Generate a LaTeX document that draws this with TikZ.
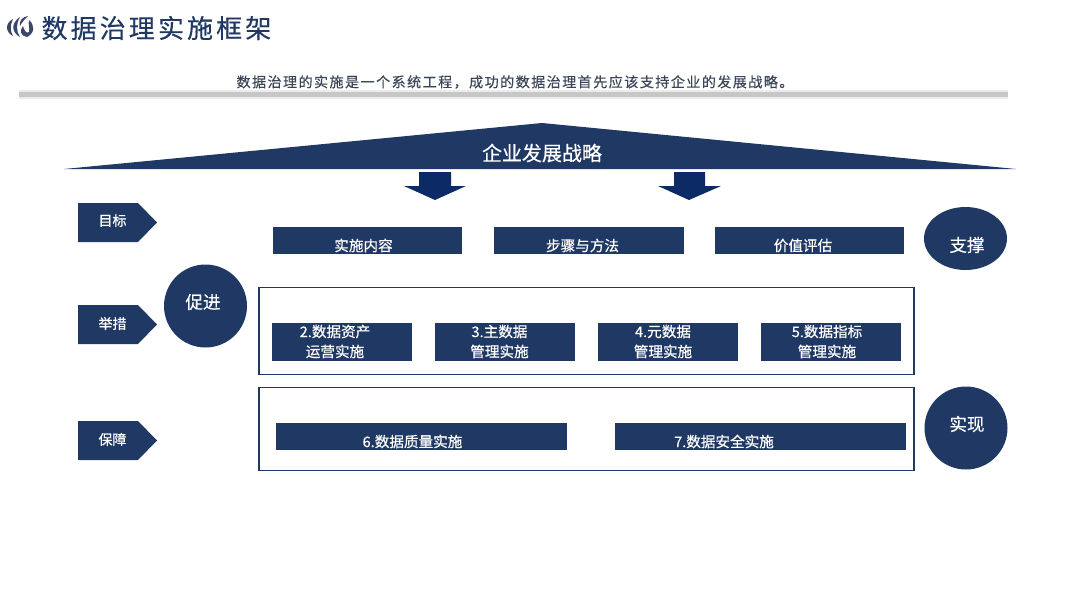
\documentclass[tikz,border=0pt]{standalone}
\usepackage{fontspec}
\setmainfont{Noto Sans CJK SC}
\newfontfamily\medf[FakeBold=0.5]{Noto Sans CJK SC}
\newfontfamily\spaced[LetterSpace=10,FakeBold=0.3]{Noto Sans CJK SC}
\newfontfamily\spacedb[LetterSpace=12,FakeBold=0.3]{Noto Sans CJK SC}
\usetikzlibrary{shapes.geometric}
\definecolor{navy}{HTML}{1F3864}
\definecolor{arrowblue}{HTML}{0B2A66}
\definecolor{ink}{HTML}{3A4658}
\definecolor{logoc}{HTML}{3A4668}
\tikzset{
  every node/.style={inner sep=0pt,outer sep=0pt},
  bar/.style={fill=navy,draw=none},
  bartext/.style={text=white,font=\fontsize{14.6}{20}\medf,align=center},
  disc/.style={circle,fill=navy,draw=none,minimum size=83pt},
  disctext/.style={text=white,font=\fontsize{17.5}{20}\medf},
  frame/.style={draw=navy,fill=white,line width=1.4pt},
  tagtext/.style={text=white,font=\fontsize{14}{16}\medf},
}
\begin{document}
\begin{tikzpicture}[x=1pt,y=-1pt]
\useasboundingbox (0,0) rectangle (1080,608);
% logo
\fill[logoc] (13,19) .. controls (5,23) and (5,32) .. (13,36) .. controls (10,31) and (10,25) .. (13,19) -- cycle;
\fill[logoc] (20,17) .. controls (11,23) and (11,32) .. (20,37) .. controls (16,31) and (16,24) .. (20,17) -- cycle;
\fill[logoc] (28,16) .. controls (22,17) and (19,21) .. (20,26) .. controls (22,22) and (25,19) .. (28,16) -- cycle;
\fill[logoc] (29,20) .. controls (35,25) and (35,33) .. (27,37) .. controls (21,36) and (19,31) .. (23,26) .. controls (24,31) and (27,34) .. (29,32) .. controls (30,28) and (28,24) .. (29,20) -- cycle;
% title
\node[anchor=west,text=navy,font=\fontsize{26}{28}\spacedb] (title) at (41.5,28) {数据治理实施框架};
\node[text=ink,font=\fontsize{14.1}{16}\spaced] (sub) at (515,82) {数据治理的实施是一个系统工程，成功的数据治理首先应该支持企业的发展战略。};
% grey rule
\fill[black!8] (19,89.5) rectangle (1008,99);
\fill[black!22] (19,92) rectangle (1008,97);
% roof
\coordinate (roofl) at (64,169);
\coordinate (roofr) at (1016,169);
\coordinate (roofa) at (542,123);
\fill[navy] (roofl) -- (roofa) -- (roofr) -- cycle;
\node[text=white,font=\fontsize{20}{22}\medf] (strategy) at (542,153) {企业发展战略};
% down arrows
\fill[arrowblue] (419,172) -- (451,172) -- (451,186) -- (466,186) -- (435,200) -- (404,186) -- (419,186) -- cycle;
\fill[arrowblue] (674,172) -- (705,172) -- (705,186) -- (721,186) -- (689,200) -- (658,186) -- (674,186) -- cycle;
% tags
\foreach \n/\y/\t/\dy in {goal/203/目标/-2,act/305/举措/-1,safe/421/保障/-1}{
  \fill[navy] (78,\y) -- (138,\y) -- (157,\y+19.5) -- (138,\y+39) -- (78,\y+39) -- cycle;
  \node[tagtext] (\n) at (112.5,\y+19.5+\dy) {\t};
}
% top bars
\node[bar,minimum width=189pt,minimum height=27pt,label={[bartext,yshift=-5pt,xshift=-4pt]center:实施内容}] (b1) at (367.5,240.5) {};
\node[bar,minimum width=190pt,minimum height=27pt,label={[bartext,yshift=-5pt,xshift=-6pt]center:步骤与方法}] (b2) at (588.5,240.5) {};
\node[bar,minimum width=189pt,minimum height=27pt,label={[bartext,yshift=-5pt,xshift=-6pt]center:价值评估}] (b3) at (809,240.5) {};
% frames
\node[frame,minimum width=655pt,minimum height=87pt] (f1) at (586.5,331) {};
\node[frame,minimum width=655pt,minimum height=83pt] (f2) at (586.5,429) {};
% measures
\node[bar,minimum width=140pt,minimum height=38pt,label={[bartext,yshift=0pt,xshift=-7pt]center:2.数据资产\\运营实施}] (m2) at (342,341.5) {};
\node[bar,minimum width=140pt,minimum height=38pt,label={[bartext,yshift=0pt,xshift=-5.5pt]center:3.主数据\\管理实施}] (m3) at (505,341.5) {};
\node[bar,minimum width=140pt,minimum height=38pt,label={[bartext,yshift=0pt,xshift=-5pt]center:4.元数据\\管理实施}] (m4) at (668,341.5) {};
\node[bar,minimum width=140pt,minimum height=38pt,label={[bartext,yshift=0pt,xshift=-4pt]center:5.数据指标\\管理实施}] (m5) at (831,341.5) {};
% safeguards
\node[bar,minimum width=291pt,minimum height=27pt,label={[bartext,yshift=-5pt,xshift=-9pt]center:6.数据质量实施}] (s6) at (421.5,436.5) {};
\node[bar,minimum width=291pt,minimum height=27pt,label={[bartext,yshift=-5pt,xshift=-36.5pt]center:7.数据安全实施}] (s7) at (760.5,436.5) {};
% discs
\node[disc] (promote) at (205.5,306) {};
\node[disctext] (promotet) at (203,302) {促进};
\node[ellipse,fill=navy,minimum width=83pt,minimum height=63pt] (support) at (965.5,238.5) {};
\node[disctext] (supportt) at (967,245) {支撑};
\node[disc] (realize) at (966,428) {};
\node[disctext] (realizet) at (967,424) {实现};
\end{tikzpicture}
\end{document}
